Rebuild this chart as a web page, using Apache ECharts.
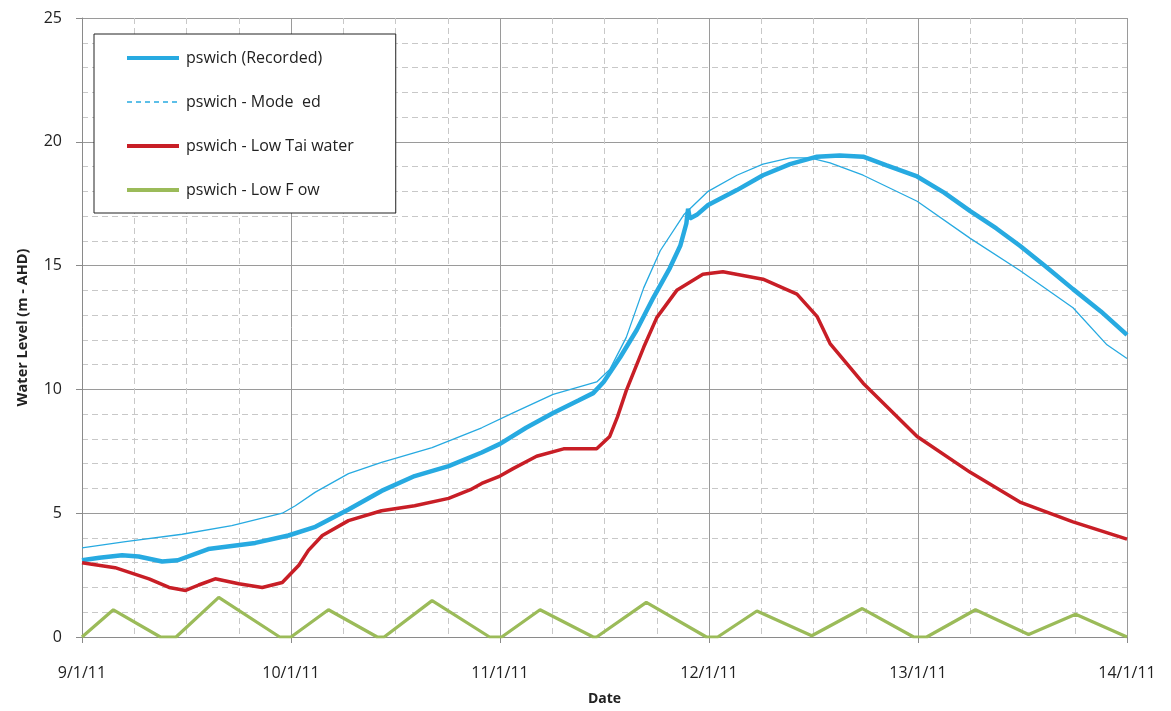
<!DOCTYPE html>
<html>
<head>
<meta charset="utf-8">
<script src="https://cdn.jsdelivr.net/npm/echarts@6/dist/echarts.min.js"></script>
<style>
html,body{margin:0;padding:0;background:#fff;}
#chart{width:1171px;height:711px;}
</style>
</head>
<body>
<div id="chart"></div>
<script>
// Hours since 9/1/11 00:00
const dateLabels = ['9/1/11', '10/1/11', '11/1/11', '12/1/11', '13/1/11', '14/1/11'];

const recordedHours = [0, 2, 4.6, 6.5, 9.2, 11, 14.5, 19.9, 23.7, 26.8, 30.6, 34.4, 38.2, 42.1, 45.9, 48, 51, 54.1, 57, 58.7, 59.9, 61.8, 63.7, 65.6, 67.5, 68.7, 69.4, 69.6, 69.8, 70.6, 71.9, 75.2, 78.2, 81.3, 84.4, 87, 89.7, 92.4, 95.9, 99, 102, 105, 107.7, 110.7, 113.8, 117, 120];
const recordedLevel = [3.1, 3.2, 3.3, 3.25, 3.05, 3.1, 3.55, 3.8, 4.1, 4.45, 5.15, 5.9, 6.5, 6.9, 7.45, 7.8, 8.45, 9.05, 9.55, 9.85, 10.3, 11.3, 12.4, 13.7, 14.9, 15.8, 16.7, 17.3, 16.9, 17.05, 17.45, 18.05, 18.65, 19.1, 19.4, 19.45, 19.4, 19.05, 18.6, 17.95, 17.2, 16.5, 15.8, 14.95, 14.05, 13.15, 12.2];

const modelledHours = [0, 5, 11.5, 17.2, 23, 24.5, 26.8, 30.6, 34.4, 40.2, 45.9, 49.5, 54.1, 59.1, 60.6, 62.5, 64.5, 66.4, 69.1, 71.9, 75.2, 78.2, 81.3, 83.6, 85.9, 89.7, 95.9, 102, 107.7, 113.8, 117.7, 120];
const modelledLevel = [3.6, 3.85, 4.15, 4.5, 5.0, 5.3, 5.85, 6.6, 7.05, 7.65, 8.45, 9.05, 9.8, 10.3, 10.8, 12.1, 14.1, 15.6, 17.05, 18.0, 18.65, 19.1, 19.35, 19.35, 19.15, 18.65, 17.6, 16.1, 14.8, 13.3, 11.8, 11.25];

const lowTailHours = [0, 3.8, 7.7, 10, 11.9, 13.4, 15.3, 18, 20.7, 23, 24.9, 26, 27.6, 30.6, 34.4, 38.2, 42.1, 44.6, 45.9, 48, 49.5, 52.2, 55.3, 59.1, 60.6, 61.5, 62.5, 64.5, 66, 68.3, 71.3, 73.6, 78.2, 82.1, 84.4, 85.9, 89.7, 95.9, 102, 107.7, 113.8, 120];
const lowTailLevel = [3.0, 2.8, 2.35, 2.0, 1.88, 2.1, 2.35, 2.15, 2.0, 2.2, 2.9, 3.5, 4.1, 4.7, 5.1, 5.3, 5.6, 5.95, 6.2, 6.5, 6.8, 7.3, 7.6, 7.6, 8.1, 8.9, 9.95, 11.7, 12.9, 14.0, 14.65, 14.75, 14.45, 13.85, 12.95, 11.85, 10.25, 8.1, 6.65, 5.45, 4.65, 3.95];

const lowFlowHours = [0, 3.6, 9, 10.8, 15.7, 22.7, 24, 28.3, 33.9, 34.7, 40.2, 46.8, 48.2, 52.6, 58.7, 59.1, 64.8, 71.7, 73, 77.5, 83.8, 89.6, 95.5, 97, 102.6, 108.7, 114.1, 120];
const lowFlowLevel = [0, 1.1, 0, 0, 1.6, 0, 0, 1.1, 0, 0, 1.47, 0, 0, 1.1, 0, 0, 1.4, 0, 0, 1.05, 0.05, 1.15, 0, 0, 1.1, 0.1, 0.92, 0];

const seriesNames = ['pswich (Recorded)', 'pswich - Mode  ed', 'pswich - Low Tai water', 'pswich - Low F ow'];

function pairs(xs, ys) { return xs.map((x, i) => [x, ys[i]]); }

const FONT = '"Open Sans"';
const chart = echarts.init(document.getElementById('chart'), null, {renderer: 'canvas'});
const majorLine = {show: true, lineStyle: {color: '#9a9a9a', width: 1, type: 'solid'}};
const minorLine = {show: true, lineStyle: {color: '#c8c8c8', width: 1, type: [6, 4]}};

chart.setOption({
  backgroundColor: '#fff',
  animation: false,
  grid: {left: 82, right: 44, top: 18, bottom: 68, containLabel: false},
  legend: {
    orient: 'vertical',
    left: 94, top: 34,
    padding: [16, 42, 15, 31],
    itemGap: 28,
    itemWidth: 52,
    itemHeight: 14,
    borderColor: '#222',
    borderWidth: 1,
    backgroundColor: '#fff',
    itemStyle: {opacity: 0, borderWidth: 0},
    textStyle: {fontFamily: FONT, fontSize: 16, color: '#222', padding: [0, 0, 0, 2]},
    data: [
      {name: seriesNames[0], lineStyle: {width: 4}},
      {name: seriesNames[1], lineStyle: {width: 1.5, type: [5, 4]}},
      {name: seriesNames[2], lineStyle: {width: 4}},
      {name: seriesNames[3], lineStyle: {width: 4}}
    ]
  },
  xAxis: {
    type: 'value', min: 0, max: 120, interval: 24,
    name: 'Date', nameLocation: 'middle', nameGap: 55,
    nameTextStyle: {fontFamily: FONT, fontSize: 14, fontWeight: 'bold', color: '#222'},
    axisLine: {show: true, onZero: false, lineStyle: {color: '#8a8a8a'}},
    axisTick: {show: true, length: 6, lineStyle: {color: '#8a8a8a'}},
    axisLabel: {fontFamily: FONT, fontSize: 16, color: '#222', margin: 28,
      formatter: v => dateLabels[Math.round(v / 24)] || ''},
    splitLine: majorLine,
    minorTick: {show: false, splitNumber: 4},
    minorSplitLine: minorLine
  },
  yAxis: {
    type: 'value', min: 0, max: 25, interval: 5,
    name: 'Water Level (m - AHD)', nameLocation: 'middle', nameGap: 52, nameRotate: 90,
    nameTextStyle: {fontFamily: FONT, fontSize: 14.5, fontWeight: 'bold', color: '#222'},
    axisLine: {show: true, lineStyle: {color: '#8a8a8a'}},
    axisTick: {show: true, length: 6, lineStyle: {color: '#8a8a8a'}},
    axisLabel: {fontFamily: FONT, fontSize: 16, color: '#222', margin: 20},
    splitLine: majorLine,
    minorTick: {show: false, splitNumber: 5},
    minorSplitLine: minorLine
  },
  series: [
    {name: seriesNames[0], type: 'line', symbol: 'none', data: pairs(recordedHours, recordedLevel),
      lineStyle: {color: '#27aae1', width: 4.5}, itemStyle: {color: '#27aae1'}, z: 2},
    {name: seriesNames[1], type: 'line', symbol: 'none', data: pairs(modelledHours, modelledLevel),
      lineStyle: {color: '#27aae1', width: 1.3}, itemStyle: {color: '#27aae1'}, z: 3},
    {name: seriesNames[2], type: 'line', symbol: 'none', data: pairs(lowTailHours, lowTailLevel),
      lineStyle: {color: '#c81e26', width: 3.5}, itemStyle: {color: '#c81e26'}, z: 4},
    {name: seriesNames[3], type: 'line', symbol: 'none', data: pairs(lowFlowHours, lowFlowLevel),
      lineStyle: {color: '#9bbb59', width: 3.2}, itemStyle: {color: '#9bbb59'}, z: 5}
  ]
});
</script>
</body>
</html>
